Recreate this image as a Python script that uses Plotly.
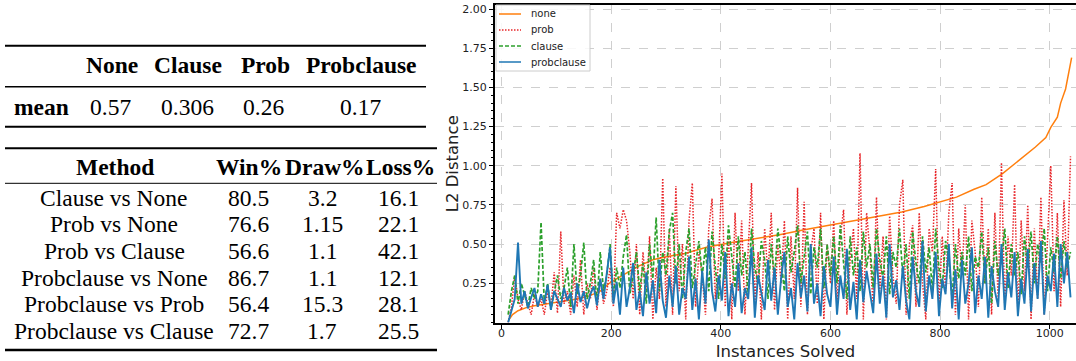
import plotly.graph_objects as go

W, H = 1076, 361

# ---------------- data ----------------
table1_cols = ["None", "Clause", "Prob", "Probclause"]
table1_mean = ["0.57", "0.306", "0.26", "0.17"]

table2_methods = ["Clause vs None", "Prob vs None", "Prob vs Clause",
                  "Probclause vs None", "Probclause vs Prob", "Probclause vs Clause"]
table2_win = ["80.5", "76.6", "56.6", "86.7", "56.4", "72.7"]
table2_draw = ["3.2", "1.15", "1.1", "1.1", "15.3", "1.7"]
table2_loss = ["16.1", "22.1", "42.1", "12.1", "28.1", "25.5"]

none_x = [12, 20, 30, 45, 60, 80, 100, 130, 160, 180, 200, 220, 250, 276, 300, 334, 374, 420, 458, 507,
          550, 598, 640, 689, 730, 771, 801, 830, 862, 884, 914, 950, 974, 993, 1002, 1014, 1020, 1029, 1034, 1040]
none_y = [0.01, 0.05, 0.075, 0.095, 0.107, 0.117, 0.127, 0.145, 0.17, 0.2, 0.26, 0.3, 0.36, 0.40, 0.42, 0.44,
          0.48, 0.51, 0.53, 0.56, 0.59, 0.62, 0.645, 0.675, 0.705, 0.74, 0.77, 0.80, 0.85, 0.88, 0.95, 1.05,
          1.12, 1.18, 1.245, 1.31, 1.40, 1.49, 1.59, 1.69]

instances = [12, 18, 24, 30, 36, 42, 48, 54, 60, 66,
             72, 78, 84, 90, 96, 102, 108, 114, 120, 126,
             132, 138, 144, 150, 156, 162, 168, 174, 180, 186,
             192, 198, 204, 210, 216, 222, 228, 234, 240, 246,
             252, 258, 264, 270, 276, 282, 288, 294, 300, 306,
             312, 318, 324, 330, 336, 342, 348, 354, 360, 366,
             372, 378, 384, 390, 396, 402, 408, 414, 420, 426,
             432, 438, 444, 450, 456, 462, 468, 474, 480, 486,
             492, 498, 504, 510, 516, 522, 528, 534, 540, 546,
             552, 558, 564, 570, 576, 582, 588, 594, 600, 606,
             612, 618, 624, 630, 636, 642, 648, 654, 660, 666,
             672, 678, 684, 690, 696, 702, 708, 714, 720, 726,
             732, 738, 744, 750, 756, 762, 768, 774, 780, 786,
             792, 798, 804, 810, 816, 822, 828, 834, 840, 846,
             852, 858, 864, 870, 876, 882, 888, 894, 900, 906,
             912, 918, 924, 930, 936, 942, 948, 954, 960, 966,
             972, 978, 984, 990, 996, 1002, 1008, 1014, 1020, 1026,
             1032, 1038]

prob_y = [0.0, 0.1, 0.3, 0.15, 0.08, 0.2, 0.12, 0.05, 0.18, 0.1,
          0.15, 0.05, 0.2, 0.1, 0.32, 0.06, 0.58, 0.12, 0.2, 0.05,
          0.3, 0.1, 0.4, 0.05, 0.25, 0.15, 0.35, 0.08, 0.28, 0.12,
          0.2, 0.35, 0.1, 0.7, 0.6, 0.72, 0.65, 0.45, 0.15, 0.5,
          0.05, 0.45, 0.2, 0.55, 0.02, 0.35, 0.15, 0.92, 0.1, 0.6,
          0.05, 0.87, 0.2, 0.5, 0.02, 0.65, 0.89, 0.1, 0.45, 0.3,
          0.05, 0.6, 0.79, 0.15, 0.4, 0.95, 0.1, 0.55, 0.02, 0.7,
          0.2, 0.65, 0.05, 0.5, 0.89, 0.12, 0.45, 0.02, 0.6, 0.3,
          0.7, 0.08, 0.5, 0.25, 0.65, 0.02, 0.55, 0.15, 0.86, 0.1,
          0.77, 0.05, 0.45, 0.6, 0.12, 0.7, 0.02, 0.5, 0.25, 0.65,
          0.1, 0.55, 0.72, 0.05, 0.4, 0.6, 0.15, 1.08, 0.02, 0.7,
          0.45, 0.1, 0.8, 0.2, 0.55, 0.02, 0.68, 0.3, 0.12, 0.75,
          0.91, 0.05, 0.5, 0.62, 0.1, 0.7, 0.25, 0.02, 0.6, 0.45,
          0.98, 0.1, 0.55, 0.2, 0.7, 0.89, 0.05, 0.6, 0.3, 0.75,
          0.02, 0.65, 0.45, 0.1, 0.8, 0.25, 0.6, 0.05, 0.7, 0.15,
          1.02, 0.1, 0.55, 0.3, 0.88, 0.05, 0.65, 0.2, 0.75, 0.02,
          0.6, 0.15, 0.8, 0.05, 0.55, 1.0, 0.2, 0.7, 0.1, 0.78,
          0.3, 1.06]

clause_y = [0.05, 0.2, 0.3, 0.12, 0.25, 0.18, 0.1, 0.22, 0.15, 0.2,
            0.64, 0.12, 0.25, 0.08, 0.2, 0.3, 0.15, 0.22, 0.35, 0.1,
            0.5, 0.18, 0.3, 0.51, 0.15, 0.25, 0.4, 0.12, 0.45, 0.2,
            0.3, 0.5, 0.15, 0.35, 0.22, 0.42, 0.56, 0.18, 0.3, 0.45,
            0.2, 0.38, 0.12, 0.5, 0.28, 0.67, 0.2, 0.45, 0.3, 0.58,
            0.7, 0.25, 0.5, 0.15, 0.45, 0.6, 0.22, 0.38, 0.52, 0.3,
            0.48, 0.2, 0.58, 0.35, 0.15, 0.5, 0.28, 0.62, 0.4, 0.22,
            0.55, 0.3, 0.45, 0.18, 0.6, 0.35, 0.25, 0.52, 0.4, 0.15,
            0.5, 0.28, 0.6, 0.38, 0.2, 0.55, 0.32, 0.45, 0.62, 0.25,
            0.4, 0.58, 0.18, 0.48, 0.35, 0.6, 0.22, 0.5, 0.3, 0.55,
            0.25, 0.62, 0.38, 0.15, 0.55, 0.3, 0.48, 0.2, 0.58, 0.35,
            0.5, 0.22, 0.6, 0.4, 0.28, 0.55, 0.18, 0.45, 0.35, 0.6,
            0.3, 0.5, 0.15, 0.58, 0.38, 0.25, 0.55, 0.32, 0.48, 0.2,
            0.6, 0.35, 0.22, 0.52, 0.4, 0.15, 0.5, 0.28, 0.45, 0.3,
            0.55, 0.2, 0.42, 0.35, 0.58, 0.25, 0.48, 0.12, 0.52, 0.3,
            0.4, 0.6, 0.22, 0.5, 0.3, 0.45, 0.18, 0.55, 0.35, 0.58,
            0.25, 0.5, 0.38, 0.6, 0.2, 0.48, 0.32, 0.55, 0.28, 0.52,
            0.35, 0.45]

probclause_y = [0.0, 0.08, 0.15, 0.51, 0.12, 0.2, 0.09, 0.16, 0.22, 0.1,
                0.18, 0.12, 0.24, 0.08, 0.2, 0.15, 0.1, 0.22, 0.14, 0.19,
                0.06, 0.25, 0.13, 0.2, 0.09, 0.18, 0.23, 0.11, 0.28, 0.15,
                0.3, 0.48, 0.12, 0.26, 0.05, 0.35, 0.1, 0.22, 0.38, 0.08,
                0.2, 0.04, 0.32, 0.12, 0.27, 0.06, 0.4, 0.14, 0.03, 0.3,
                0.1, 0.36, 0.05, 0.22, 0.15, 0.42, 0.08, 0.28, 0.02, 0.33,
                0.12, 0.53, 0.2, 0.07, 0.3, 0.14, 0.45, 0.04, 0.25, 0.1,
                0.38, 0.06, 0.22, 0.15, 0.48, 0.03, 0.3, 0.18, 0.08, 0.4,
                0.14, 0.35, 0.05, 0.28, 0.45, 0.1, 0.22, 0.02, 0.38, 0.16,
                0.3, 0.07, 0.5, 0.12, 0.25, 0.04, 0.36, 0.18, 0.1, 0.42,
                0.05, 0.3, 0.15, 0.47, 0.08, 0.26, 0.02, 0.4, 0.13, 0.33,
                0.2, 0.06, 0.44, 0.12, 0.3, 0.03, 0.5, 0.16, 0.27, 0.08,
                0.36, 0.14, 0.02, 0.42, 0.2, 0.1, 0.52, 0.07, 0.3, 0.15,
                0.45, 0.04, 0.28, 0.18, 0.5, 0.09, 0.34, 0.02, 0.4, 0.12,
                0.25, 0.48, 0.06, 0.3, 0.15, 0.42, 0.03, 0.36, 0.2, 0.1,
                0.5, 0.08, 0.32, 0.16, 0.45, 0.04, 0.28, 0.12, 0.47, 0.07,
                0.38, 0.15, 0.52, 0.05, 0.3, 0.2, 0.44, 0.1, 0.5, 0.25,
                0.45, 0.16]

y_ticks = [0.25, 0.5, 0.75, 1.0, 1.25, 1.5, 1.75, 2.0]
y_ticktext = ["0.25", "0.50", "0.75", "1.00", "1.25", "1.50", "1.75", "2.00"]
x_ticks = [0, 200, 400, 600, 800, 1000]

series_names = ["none", "prob", "clause", "probclause"]
series_colors = ["#ff7f0e", "#e8262a", "#2ca02c", "#1f77b4"]
series_dash = ["solid", "1.5px,1.5px", "4px,2px", "solid"]
series_width = [1.5, 1.5, 1.7, 1.9]

# ---------------- figure ----------------
fig = go.Figure()
fig.add_trace(go.Scatter(x=none_x, y=none_y, mode="lines", name=series_names[0],
                         line=dict(color=series_colors[0], width=series_width[0], dash=series_dash[0])))
fig.add_trace(go.Scatter(x=instances, y=prob_y, mode="lines", name=series_names[1],
                         line=dict(color=series_colors[1], width=series_width[1], dash=series_dash[1])))
fig.add_trace(go.Scatter(x=instances, y=clause_y, mode="lines", name=series_names[2],
                         line=dict(color=series_colors[2], width=series_width[2], dash=series_dash[2])))
fig.add_trace(go.Scatter(x=instances, y=probclause_y, mode="lines", name=series_names[3],
                         line=dict(color=series_colors[3], width=series_width[3], dash=series_dash[3])))


def px(x):
    return x / W


def py(y):
    return 1 - y / H


serif = "Liberation Serif, Times New Roman, serif"
sans = "DejaVu Sans, sans-serif"
tfs = 23.5
ann = []
shapes = []


def text(x, y, s, bold=False):
    ann.append(dict(x=px(x), y=py(y), xref="paper", yref="paper", showarrow=False,
                    text=("<b>%s</b>" % s) if bold else s, xanchor="center", yanchor="middle",
                    font=dict(family=serif, size=tfs, color="black")))


def rule(x0, x1, y, w):
    shapes.append(dict(type="line", xref="paper", yref="paper", x0=px(x0), x1=px(x1),
                       y0=py(y), y1=py(y), line=dict(color="black", width=w)))


# table 1
rule(5, 426, 45.7, 2)
for cx, s in zip([111.7, 188, 265, 361.7], table1_cols):
    text(cx, 65, s, bold=True)
rule(5, 426, 86.7, 1.5)
text(41, 107, "mean", bold=True)
for cx, s in zip([110, 187, 263, 360], table1_mean):
    text(cx, 107, s)
rule(5, 426, 126.7, 2)

# table 2
rule(5, 437, 148.3, 2)
text(115, 167, "Method", bold=True)
text(249, 167, "Win%", bold=True)
text(325, 167, "Draw%", bold=True)
text(400, 167, "Loss%", bold=True)
rule(5, 437, 183.3, 1)
row_y = [197.7, 224, 251, 277.7, 304, 330.7]
for ry, m, wv, dv, lv in zip(row_y, table2_methods, table2_win, table2_draw, table2_loss):
    text(114, ry, m)
    text(248, ry, wv)
    text(322, ry, dv)
    text(398, ry, lv)
rule(5, 437, 350, 2.5)

# legend box (matplotlib-style, compact)
shapes.append(dict(type="rect", xref="paper", yref="paper", x0=px(496), x1=px(590),
                   y0=py(71), y1=py(5), line=dict(color="#cccccc", width=1),
                   fillcolor="rgba(255,255,255,0.85)", layer="above"))
for k, (nm, col, ds) in enumerate(zip(series_names, series_colors, series_dash)):
    ly = 14 + 16 * k
    shapes.append(dict(type="line", xref="paper", yref="paper", x0=px(499), x1=px(521),
                       y0=py(ly), y1=py(ly), line=dict(color=col, width=1.5, dash=ds),
                       layer="above"))
    ann.append(dict(x=px(529), y=py(ly), xref="paper", yref="paper", showarrow=False,
                    text=nm, xanchor="left", yanchor="middle",
                    font=dict(family=sans, size=10, color="#222")))

fig.update_layout(
    template="none",
    width=W, height=H,
    margin=dict(l=0, r=0, t=0, b=0),
    paper_bgcolor="white", plot_bgcolor="white",
    annotations=ann, shapes=shapes,
    showlegend=False,
    xaxis=dict(domain=[495 / W, 1], range=[-12, 1048], tickvals=x_ticks,
               ticks="outside", ticklen=4, tickwidth=1, tickcolor="black",
               ticklabelstandoff=-5,
               showline=True, linewidth=2, linecolor="black", mirror=True,
               showgrid=True, gridcolor="#cfcfcf", griddash="dash", gridwidth=1,
               zeroline=False, automargin=False,
               tickfont=dict(family=sans, size=11, color="#222"),
               title=dict(text="Instances Solved", font=dict(family=sans, size=16.5, color="#222"),
                          standoff=10)),
    yaxis=dict(domain=[1 - 322.5 / H, 1 - 5 / H], range=[0, 2.026], tickvals=y_ticks,
               ticktext=y_ticktext,
               ticks="outside", ticklen=4, tickwidth=1, tickcolor="black",
               minor=dict(ticks="outside", ticklen=2, dtick=0.05, tickcolor="black", showgrid=False),
               showline=True, linewidth=2, linecolor="black",
               showgrid=True, gridcolor="#cfcfcf", griddash="dash", gridwidth=1,
               zeroline=False, automargin=False,
               tickfont=dict(family=sans, size=11, color="#222"),
               title=dict(text="L2 Distance", font=dict(family=sans, size=16.5, color="#222"),
                          standoff=0)),
)

fig.write_html("out.html")
